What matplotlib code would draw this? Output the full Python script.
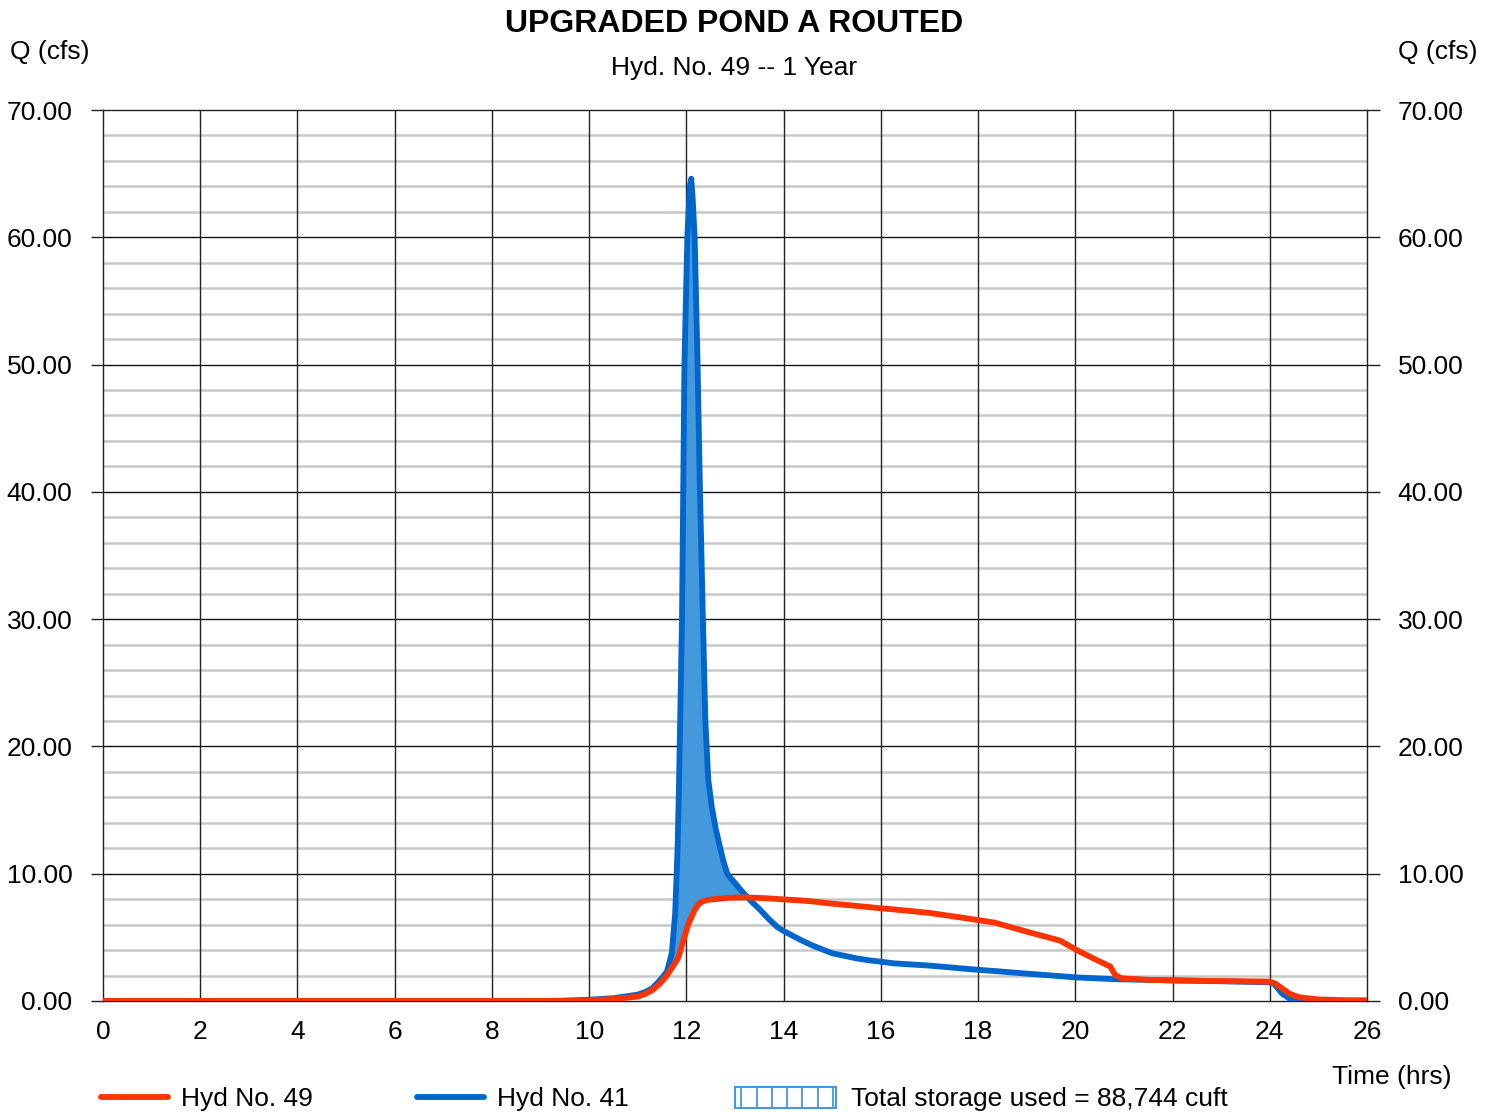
import numpy as np
import matplotlib
matplotlib.use("Agg")
import matplotlib.pyplot as plt
from matplotlib.lines import Line2D
from matplotlib.patches import Rectangle

plt.rcParams["font.family"] = ["Liberation Sans", "DejaVu Sans"]

# Hydrograph ordinates (hrs, cfs)
time_hrs = [0, 9.0, 9.5, 10.0, 10.5, 11.0, 11.15, 11.3, 11.46, 11.6, 11.7, 11.77,
            11.82, 11.85, 11.91, 11.96, 12.02, 12.07, 12.1, 12.13, 12.17, 12.23,
            12.28, 12.34, 12.39, 12.45, 12.52, 12.6, 12.69, 12.76, 12.84, 12.92,
            13.0, 13.1, 13.24, 13.37, 13.5, 13.68, 13.86, 14.0, 14.15, 14.35,
            14.6, 15.0, 15.25, 15.5, 15.75, 16.0, 16.26, 17.0, 17.63, 18.0,
            18.35, 19.0, 19.69, 20.03, 20.44, 20.72, 20.82, 20.96, 21.5, 22.0,
            23.0, 24.0, 24.1, 24.25, 24.42, 24.6, 25.0, 25.5, 26.0]

hyd41_inflow = [0, 0, 0.02, 0.1, 0.22, 0.5, 0.7, 1.0, 1.65, 2.3, 3.75, 6.9,
                12.1, 17.4, 30.0, 50.0, 60.0, 64.0, 64.6, 63.0, 60.0, 50.0,
                40.0, 30.0, 22.0, 17.4, 15.3, 13.6, 12.1, 11.0, 10.0, 9.6,
                9.27, 8.8, 8.2, 7.7, 7.23, 6.5, 5.84, 5.5, 5.2, 4.8,
                4.35, 3.75, 3.55, 3.35, 3.2, 3.09, 2.96, 2.78, 2.57, 2.45,
                2.35, 2.15, 1.95, 1.85, 1.78, 1.73, 1.71, 1.70, 1.66, 1.62,
                1.55, 1.47, 1.3, 0.6, 0.15, 0.04, 0.01, 0, 0]

hyd49_outflow = [0, 0, 0.02, 0.05, 0.15, 0.35, 0.55, 0.85, 1.39, 2.0, 2.6, 3.0,
                 3.3, 3.6, 4.4, 5.0, 5.8, 6.3, 6.55, 6.8, 7.15, 7.5,
                 7.7, 7.82, 7.9, 7.95, 7.98, 8.0, 8.05, 8.07, 8.1, 8.11,
                 8.12, 8.13, 8.14, 8.12, 8.1, 8.06, 8.02, 7.98, 7.95, 7.9,
                 7.82, 7.65, 7.56, 7.47, 7.38, 7.28, 7.2, 6.92, 6.57, 6.36,
                 6.15, 5.45, 4.74, 4.0, 3.22, 2.70, 2.04, 1.78, 1.66, 1.62,
                 1.57, 1.52, 1.4, 1.0, 0.55, 0.3, 0.12, 0.07, 0.05]

x_ticks = list(range(0, 27, 2))
y_ticks = [0, 10, 20, 30, 40, 50, 60, 70]

RED = "#ff3300"
BLUE = "#0066cc"
FILL = "#4499dd"

W, H = 1496, 1112
fig = plt.figure(figsize=(W / 100, H / 100), dpi=100)
ax = fig.add_axes([103 / W, 1 - 1001 / H, (1367 - 103) / W, (1001 - 110) / H])

t = np.array(time_hrs)
q_in = np.array(hyd41_inflow)
q_out = np.array(hyd49_outflow)

# grid: light minor every 2 cfs, dark majors
for y in np.arange(2, 70, 2):
    if y % 10:
        ax.axhline(y, color="#c8c8c8", lw=1.8, zorder=1)
for y in y_ticks[1:-1]:
    ax.axhline(y, color="#111111", lw=1.0, zorder=1.5)
for x in x_ticks[1:-1]:
    ax.axvline(x, color="#222222", lw=1.0, zorder=1.5)

# storage between inflow and outflow
ax.fill_between(t, q_out, q_in, where=q_in >= q_out, interpolate=True,
                color=FILL, lw=0, zorder=2)
ax.plot(t, q_in, color=BLUE, lw=4.2, solid_capstyle="round",
        solid_joinstyle="round", zorder=3)
ax.plot(t, q_out, color=RED, lw=4.2, solid_capstyle="round",
        solid_joinstyle="round", zorder=4)

ax.set_xlim(0, 26)
ax.set_ylim(0, 70)
for s in ax.spines.values():
    s.set_color("#222222")
    s.set_linewidth(1.0)

ax.set_xticks(x_ticks)
ax.set_xticklabels([str(v) for v in x_ticks])
ax.set_yticks(y_ticks)
ax.set_yticklabels(["%.2f" % v for v in y_ticks])
ax.tick_params(axis="x", length=0, pad=14, labelsize=19)
ax.tick_params(axis="y", length=9, width=1.0, color="#222222", pad=13,
               labelsize=19, right=True, labelright=True)

# titles and axis captions
fig.text(734 / W, 1 - 24 / H, "UPGRADED POND A ROUTED", ha="center", va="center",
         fontsize=23, fontweight="bold")
fig.text(734 / W, 1 - 68 / H, "Hyd. No. 49 -- 1 Year", ha="center", va="center",
         fontsize=19)
fig.text(10 / W, 1 - 52 / H, "Q (cfs)", ha="left", va="center", fontsize=19)
fig.text(1478 / W, 1 - 52 / H, "Q (cfs)", ha="right", va="center", fontsize=19)
fig.text(1452 / W, 1 - 1077 / H, "Time (hrs)", ha="right", va="center", fontsize=19)

# legend row
ly = 1 - 1097 / H
ty = 1 - 1099 / H
fig.add_artist(Line2D([101 / W, 168 / W], [ly, ly], color=RED, lw=4.2,
                      solid_capstyle="round"))
fig.text(181 / W, ty, "Hyd No. 49", ha="left", va="center", fontsize=19)
fig.add_artist(Line2D([417 / W, 484 / W], [ly, ly], color=BLUE, lw=4.2,
                      solid_capstyle="round"))
fig.text(497 / W, ty, "Hyd No. 41", ha="left", va="center", fontsize=19)
fig.add_artist(Rectangle((735 / W, 1 - 1108 / H), 101 / W, 21 / H, fill=False,
                         edgecolor=FILL, lw=1.5))
for px in [741, 757, 772, 787, 802, 818, 833]:
    fig.add_artist(Line2D([px / W, px / W], [1 - 1108 / H, 1 - 1087 / H],
                          color=FILL, lw=1.3))
fig.text(851 / W, ty, "Total storage used = 88,744 cuft", ha="left", va="center",
         fontsize=19)

fig.savefig("out.png", dpi=100)
